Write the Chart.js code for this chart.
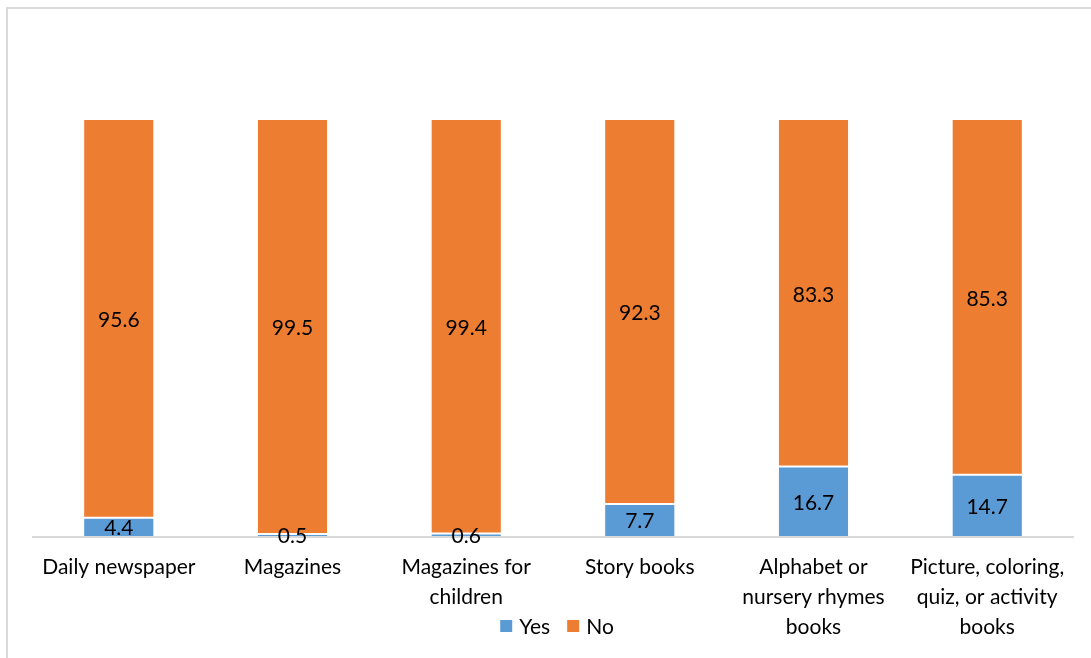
<!DOCTYPE html>
<html>
<head>
    <meta charset="UTF-8">
    <title>Reading materials</title>
    <script src="https://cdn.jsdelivr.net/npm/chart.js@4/dist/chart.umd.min.js"></script>
    <style>
        body { margin: 0; background: #fff; }
        #frame { position: absolute; left: 6px; top: 7px; width: 1100px; height: 700px; border: 2px solid #d9d9d9; }
        #wrap { position: absolute; left: 0; top: 0; width: 1091px; height: 658px; }
    </style>
</head>
<body>
    <div id="frame"></div>
    <div id="wrap"><canvas id="bar-chart" width="1091" height="658"></canvas></div>
    <script>
        const categories = [
            ["Daily newspaper"],
            ["Magazines"],
            ["Magazines for", "children"],
            ["Story books"],
            ["Alphabet or", "nursery rhymes", "books"],
            ["Picture, coloring,", "quiz, or activity", "books"]
        ];
        const yesValues = [4.4, 0.5, 0.6, 7.7, 16.7, 14.7];
        const noValues = [95.6, 99.5, 99.4, 92.3, 83.3, 85.3];
        const seriesNames = ["Yes", "No"];

        const fontName = "Lato";
        const fontSize = 21;

        // numbers in the middle of each segment
        const valueLabels = {
            id: 'valueLabels',
            afterDatasetsDraw(chart) {
                const ctx = chart.ctx;
                ctx.save();
                ctx.font = fontSize + "px " + fontName;
                ctx.fillStyle = "#000";
                ctx.textAlign = "center";
                ctx.textBaseline = "middle";
                chart.data.datasets.forEach((ds, i) => {
                    chart.getDatasetMeta(i).data.forEach((bar, j) => {
                        const mid = (bar.y + bar.base) / 2 + 1.5;
                        ctx.fillText(ds.data[j].toFixed(1), bar.x, mid);
                    });
                });
                ctx.restore();
            }
        };

        // axis line under the bars + legend sitting between the long labels
        const axisAndLegend = {
            id: 'axisAndLegend',
            beforeDatasetsDraw(chart) {
                const ctx = chart.ctx, a = chart.chartArea;
                ctx.save();
                ctx.strokeStyle = "#d9d9d9";
                ctx.lineWidth = 2;
                ctx.beginPath();
                ctx.moveTo(a.left, a.bottom + 1);
                ctx.lineTo(a.right, a.bottom + 1);
                ctx.stroke();
                ctx.restore();
            },
            afterDraw(chart) {
                const ctx = chart.ctx, a = chart.chartArea;
                const box = 12, gap = 7, itemGap = 17;
                ctx.save();
                ctx.font = fontSize + "px " + fontName;
                ctx.textBaseline = "middle";
                const items = chart.data.datasets.map(ds => ({
                    text: ds.label, color: ds.backgroundColor, w: box + gap + ctx.measureText(ds.label).width
                }));
                let total = items.reduce((s, it) => s + it.w, 0) + itemGap * (items.length - 1);
                let x = (a.left + a.right) / 2 - total / 2 + 4;
                const y = 626;
                items.forEach(it => {
                    ctx.fillStyle = it.color;
                    ctx.fillRect(x, y - box / 2, box, box);
                    ctx.fillStyle = "#000";
                    ctx.fillText(it.text, x + box + gap, y + 1);
                    x += it.w + itemGap;
                });
                ctx.restore();
            }
        };

        new Chart(document.getElementById("bar-chart"), {
            type: 'bar',
            data: {
                labels: categories,
                datasets: [{
                    label: seriesNames[0],
                    data: yesValues,
                    backgroundColor: "#5b9bd5",
                    borderColor: "rgba(255,255,255,0.3)",
                    borderWidth: {top: 1, left: 0, right: 0, bottom: 0},
                    borderSkipped: false
                }, {
                    label: seriesNames[1],
                    data: noValues,
                    backgroundColor: "#ed7d31",
                    borderColor: "rgba(255,255,255,0.3)",
                    borderWidth: {top: 0, left: 0, right: 0, bottom: 1},
                    borderSkipped: false
                }]
            },
            options: {
                responsive: false,
                animation: false,
                layout: { padding: { top: 120, left: 32, right: 17, bottom: 0 } },
                datasets: { bar: { categoryPercentage: 1, barPercentage: 0.4 } },
                scales: {
                    x: {
                        stacked: true,
                        grid: { display: false, drawTicks: false },
                        border: { display: false },
                        ticks: {
                            color: "#000",
                            font: { family: fontName, size: fontSize, lineHeight: 1.43 },
                            padding: 16,
                            maxRotation: 0,
                            autoSkip: false
                        },
                        afterFit(scale) { scale.height = 122; }
                    },
                    y: {
                        stacked: true,
                        display: false,
                        min: 0,
                        max: 100
                    }
                },
                plugins: {
                    legend: { display: false },
                    tooltip: { enabled: false }
                }
            },
            plugins: [valueLabels, axisAndLegend]
        });
    </script>
</body>
</html>
